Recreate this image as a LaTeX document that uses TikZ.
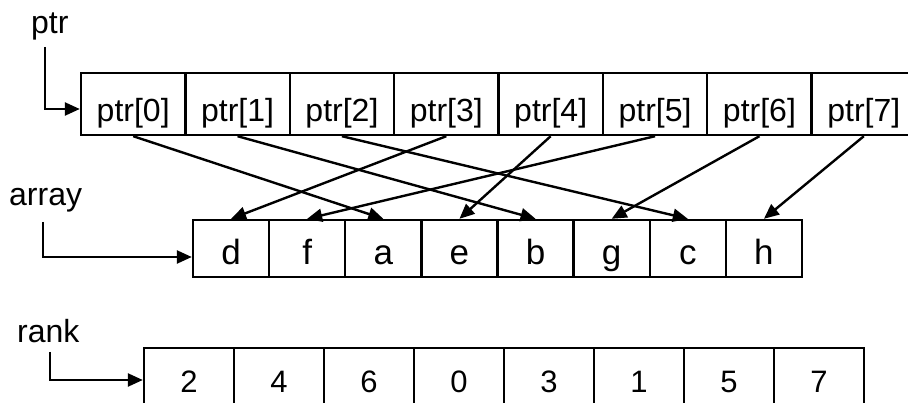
\documentclass[tikz,border=0pt]{standalone}
\usepackage{fontspec}
\setmainfont{Liberation Sans}
\usetikzlibrary{arrows.meta,calc}
\begin{document}
\begin{tikzpicture}[x=1pt,y=-1pt,
  box/.style={draw, line width=2.4pt, inner sep=0pt},
  ptrcell/.style={box, minimum width=104.375pt, minimum height=62pt},
  arrcell/.style={box, minimum width=76.125pt, minimum height=57pt},
  rankcell/.style={box, minimum width=90pt, minimum height=60pt},
  txt/.style={anchor=base, inner sep=0pt, font=\fontsize{#1}{#1}\selectfont},
  lbl/.style={anchor=base west, inner sep=0pt, font=\fontsize{32}{32}\selectfont},
  link/.style={line width=2.4pt, -{Triangle[length=15pt,width=13pt]}}]
\useasboundingbox (0,0) rectangle (908,403);
\clip (0,0) rectangle (908,403);
% top row
\foreach \i in {0,...,7}{
  \node[ptrcell] (p\i) at ({81+104.375*(\i+0.5)},104) {};
  \node[txt=32] (pt\i) at ({81+104.375*(\i+0.5)},121.5) {ptr[\i]};
}
% array row
\foreach \t [count=\i from 0] in {d,f,a,e,b,g,c,h}{
  \node[arrcell] (a\i) at ({193+76.125*(\i+0.5)},248.5) {};
  \node[txt=35] (at\i) at ({193+76.125*(\i+0.5)},265) {\t};
}
% rank row
\foreach \t [count=\i from 0] in {2,4,6,0,3,1,5,7}{
  \node[rankcell] (r\i) at ({144+90*(\i+0.5)},378) {};
  \node[txt=31] (rt\i) at ({144+90*(\i+0.5)},392) {\t};
}
% pointers
\foreach \i/\j in {0/2,1/4,2/6,3/0,4/3,5/1,6/5,7/7}
  \draw[link] (p\i.south) -- (a\j.north);
% labels
\node[lbl] (lptr) at (31,34) {ptr};
\node[lbl] (larr) at (9,206) {array};
\node[lbl] (lrank) at (17,343) {rank};
\coordinate (ps) at (45,47);
\coordinate (as) at (43,222);
\coordinate (rs) at (50,352);
\draw[link] (ps) |- ($(p0.west)+(0,5)$);
\draw[link] (as) |- ($(a0.west)+(0,8.5)$);
\draw[link] (rs) |- ($(r0.west)+(0,2)$);
\end{tikzpicture}
\end{document}
